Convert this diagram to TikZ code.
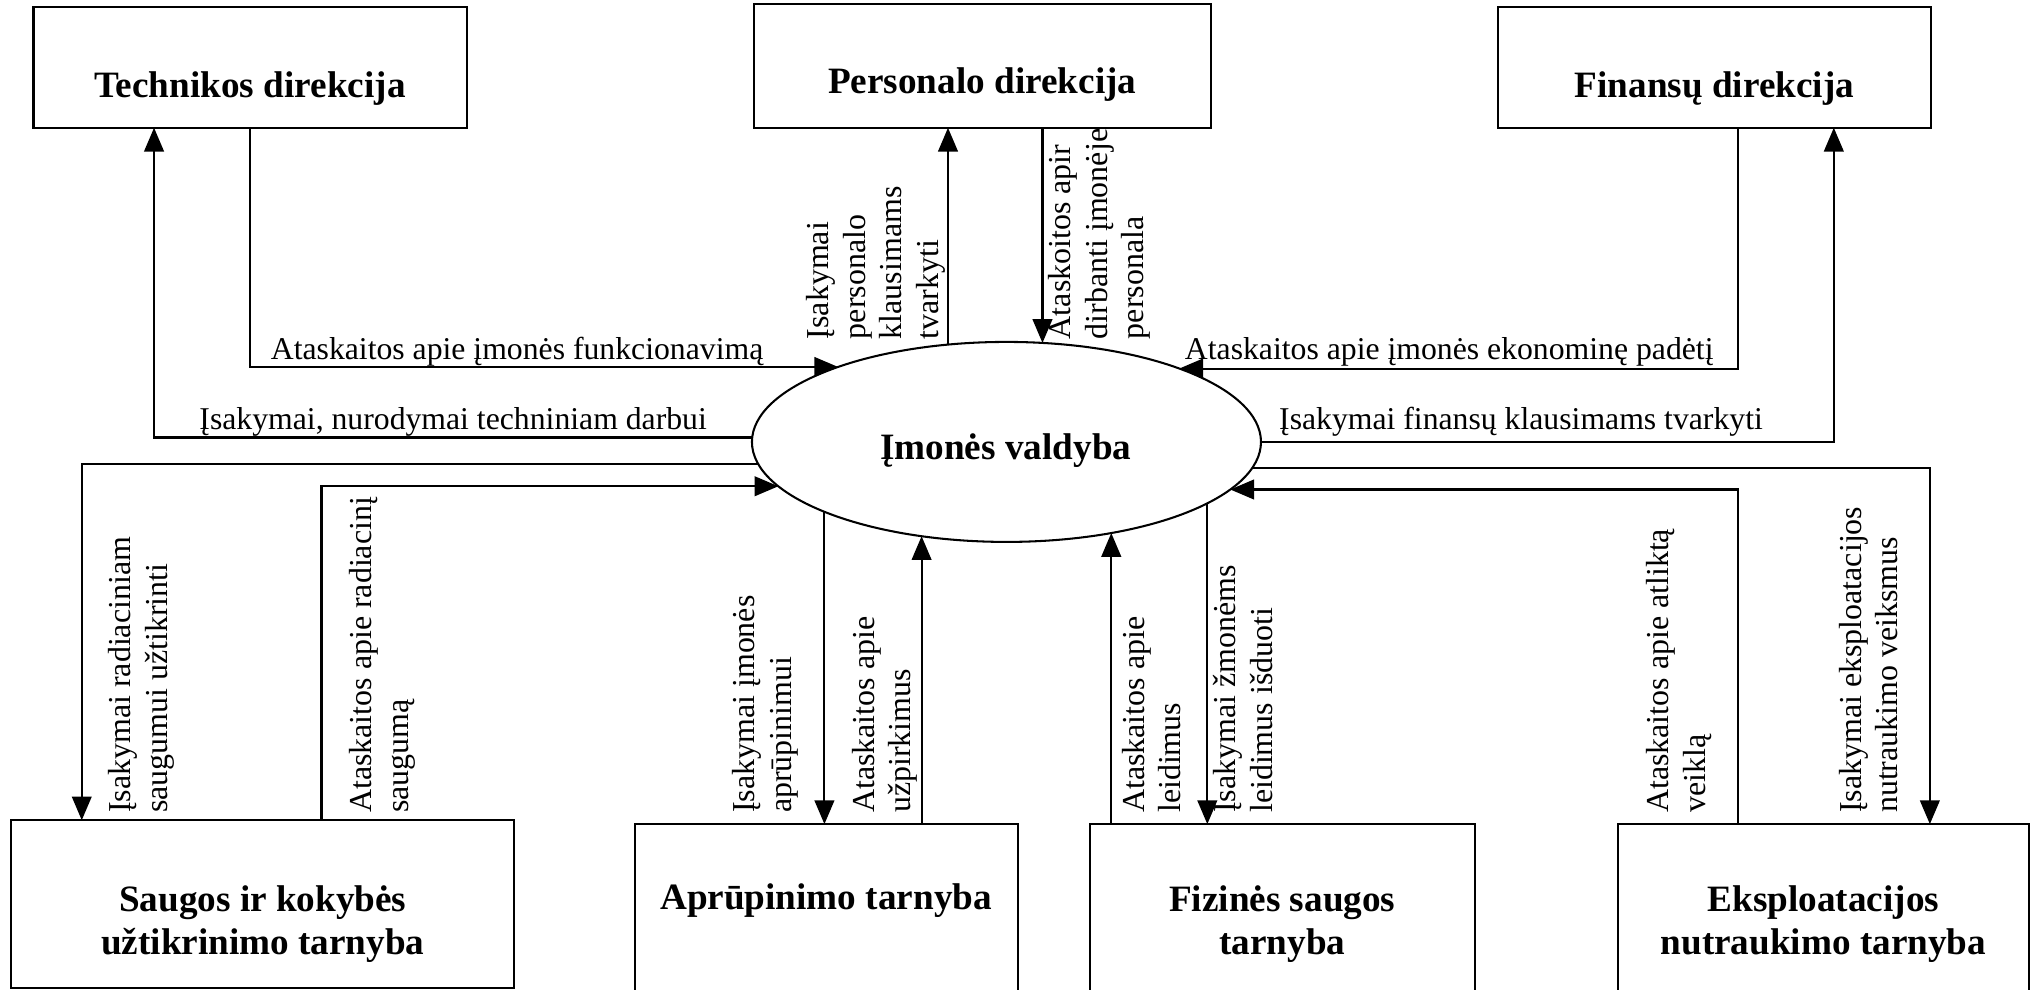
\documentclass[tikz,border=0pt]{standalone}
\usepackage{fontspec}
\setmainfont{Liberation Serif}
\usetikzlibrary{shapes.geometric, arrows.meta}
% lines of a label stacked with the first line's baseline as reference
\newcommand{\stacked}[2][l]{\begin{tabular}[t]{@{}#1@{}}#2\end{tabular}}

\begin{document}
\begin{tikzpicture}[x=0.01cm, y=-0.01cm,
  box/.style={draw, line width=0.45pt, inner sep=0pt, outer sep=0pt, anchor=north west},
  conn/.style={line width=0.45pt},
  arr/.style={conn, -{Triangle[length=5.2pt, width=4.3pt]}},
  ttl/.style={font=\fontsize{8.15}{9.6}\selectfont\bfseries, inner sep=0pt, anchor=base},
  hlab/.style={font=\fontsize{6.95}{8}\selectfont, inner sep=0pt},
  vlab/.style={font=\fontsize{7}{8}\selectfont, inner sep=0pt, rotate=90, anchor=base west},
]
\useasboundingbox (0,0) rectangle (1568,762.05);
\fill[white] (0,0) rectangle (1568,762.05);
\clip (0,0) rectangle (1568,762.05);

% ---- directorates (top row)
\node[box, minimum width=3.337cm, minimum height=0.927cm] (tech) at (25.8,5.7) {};
\node[box, minimum width=3.516cm, minimum height=0.953cm] (pers) at (581,3.1) {};
\node[box, minimum width=3.34cm,  minimum height=0.927cm] (fin)  at (1154,5.7) {};
\node[ttl] (techT) at (192.65,75.3) {Technikos direkcija};
\node[ttl] (persT) at (756.8,72) {Personalo direkcija};
\node[ttl] (finT)  at (1321,75.3) {Finansų direkcija};

% ---- board
\node[draw, ellipse, line width=0.45pt, minimum width=3.92cm, minimum height=1.54cm,
      inner sep=0pt, outer sep=0pt] (ell) at (775.5,340.5) {};
\node[ttl] (ellT) at (775,354) {Įmonės valdyba};

% ---- services (bottom row)
\node[box, minimum width=3.875cm, minimum height=1.29cm] (saug) at (8.5,632) {};
\node[box, minimum width=2.95cm,  minimum height=1.65cm] (apr)  at (489,635) {};
\node[box, minimum width=2.964cm, minimum height=1.65cm] (fiz)  at (839.6,635) {};
\node[box, minimum width=3.16cm,  minimum height=1.65cm] (eks)  at (1247,635) {};
\node[ttl] (saugT) at (202.5,702) {\stacked[c]{Saugos ir kokybės\\užtikrinimo tarnyba}};
\node[ttl] (aprT)  at (636.5,701) {Aprūpinimo tarnyba};
\node[ttl] (fizT)  at (988,702) {\stacked[c]{Fizinės saugos\\tarnyba}};
\node[ttl] (eksT)  at (1405,702) {\stacked[c]{Eksploatacijos\\nutraukimo tarnyba}};

% ---- x positions where connectors meet the boxes
\coordinate (techIn) at (118.7,0);
\coordinate (finOut) at (1339,0);
\coordinate (finIn)  at (1413,0);
\coordinate (saugIn) at (63,0);
\coordinate (saugOut) at (247.7,0);
\coordinate (eksOut) at (1339,0);
\coordinate (eksIn)  at (1487,0);

% ---- connectors
\draw[arr] (tech.south) |- (ell.156.20);
\draw[arr] (ell.179.56) -| (techIn |- tech.south);
\draw[arr] (ell.121.57) -- (ell.121.57 |- pers.south);
\draw[arr] (ell.70.44 |- pers.south) -- (ell.70.44);
\draw[arr] (finOut |- fin.south) |- (ell.23.80);
\draw[arr] (ell.0.44) -| (finIn |- fin.south);

\draw[arr] (ell.185.08) -| (saugIn |- saug.north);
\draw[arr] (saugOut |- saug.north) |- (ell.191.66);
\draw[arr] (ell.201.47) -- (ell.201.47 |- apr.north);
\draw[arr] (ell.228.42 |- apr.north) -- (ell.228.42);
\draw[arr] (ell.319.75 |- fiz.north) -- (ell.319.75);
\draw[arr] (ell.343.50) -- (ell.343.50 |- fiz.north);
\draw[arr] (eksOut |- eks.north) |- (ell.348.34);
\draw[arr] (ell.354.92) -| (eksIn |- eks.north);

% ---- horizontal labels
\node[hlab, anchor=base west] (l1) at (208,277) {Ataskaitos apie įmonės funkcionavimą};
\node[hlab, anchor=base west] (l2) at (153,331) {Įsakymai, nurodymai techniniam darbui};
\node[hlab, anchor=base east] (l5) at (1321,277) {Ataskaitos apie įmonės ekonominę padėtį};
\node[hlab, anchor=base east] (l6) at (1359,331) {Įsakymai finansų klausimams tvarkyti};

% ---- vertical labels
\node[vlab] (l3)  at (638.5,262) {\stacked{Įsakymai\\personalo\\klausimams\\tvarkyti}};
\node[vlab] (l4)  at (825,262)   {\stacked{Ataskoitos apir\\dirbanti įmonėje\\personala}};
\node[vlab] (l7)  at (100.9,627) {\stacked{Įsakymai radiaciniam\\saugumui užtikrinti}};
\node[vlab] (l8)  at (286.6,627) {\stacked{Ataskaitos apie radiacinį\\saugumą}};
\node[vlab] (l9)  at (581.6,627) {\stacked{Įsakymai įmonės\\aprūpinimui}};
\node[vlab] (l10) at (673.6,627) {\stacked{Ataskaitos apie\\užpirkimus}};
\node[vlab] (l11) at (881.6,627) {\stacked{Ataskaitos apie\\leidimus}};
\node[vlab] (l12) at (952,627)   {\stacked{Įsakymai žmonėms\\leidimus išduoti}};
\node[vlab] (l13) at (1285.7,627) {\stacked{Ataskaitos apie atliktą\\veiklą}};
\node[vlab] (l14) at (1434,627)  {\stacked{Įsakymai eksploatacijos\\nutraukimo veiksmus}};
\end{tikzpicture}
\end{document}
